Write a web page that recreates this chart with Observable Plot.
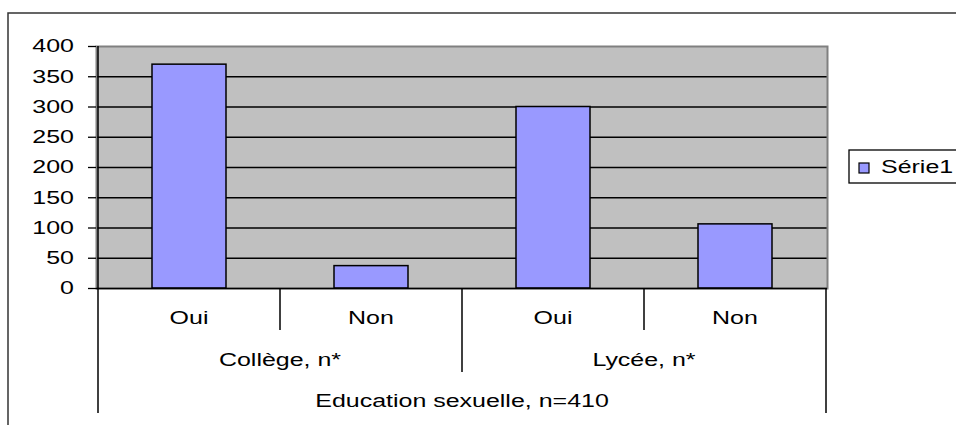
<!DOCTYPE html>
<html><head><meta charset="utf-8">
<script src="https://cdn.jsdelivr.net/npm/d3@7"></script>
<script src="https://cdn.jsdelivr.net/npm/@observablehq/plot@0.6"></script>
<style>
html,body{margin:0;padding:0;background:#fff;overflow:hidden;}
#wrap{position:relative;width:956px;height:425px;}
</style></head><body><div id="wrap"></div>
<script>
// ---- data ----
const groups = ["Collège, n*", "Lycée, n*"];
const answers = ["Oui", "Non"];
const values = [370, 37, 300, 106];
const seriesName = "Série1";
const topLabel = "Education sexuelle, n=410";
const yTicks = [0, 50, 100, 150, 200, 250, 300, 350, 400];

const data = [];
groups.forEach((g, gi) => answers.forEach((a, ai) =>
  data.push({group: g, answer: a, key: g + "|" + a, value: values[gi * answers.length + ai]})));
const keys = data.map(d => d.key);

const SX = 1.35; // horizontal stretch of the reference's lettering
const FONT = "'Liberation Sans', Arial, sans-serif";
const FS = "18.5px";

const plot = Plot.plot({
  width: 956, height: 425,
  marginLeft: 96, marginRight: 129, marginTop: 46, marginBottom: 137,
  style: {background: "white", fontFamily: FONT, fontSize: FS, color: "black"},
  x: {type: "band", domain: keys, paddingInner: 0.595, paddingOuter: 0.2975, axis: null},
  y: {domain: [0, 400], label: null},
  marks: [
    Plot.frame({fill: "#C0C0C0", stroke: null}),
    Plot.ruleY(yTicks.filter(v => v > 0 && v < 400), {stroke: "black", strokeWidth: 1.3}),
    Plot.frame({stroke: "#808080", strokeWidth: 2}),
    Plot.barY(data, {x: "key", y: "value", fill: "#9999FF", stroke: "black", strokeWidth: 1.5}),
    Plot.ruleY([0], {stroke: "black", strokeWidth: 1.5}),
    Plot.axisY({ticks: yTicks, tickSize: 8, tickFormat: () => "", stroke: "black", strokeWidth: 1.3, label: null})
  ]
});
document.getElementById("wrap").appendChild(plot);
plot.querySelectorAll("text").forEach(t => t.remove());

const svg = d3.select(plot);
const xs = plot.scale("x"), ys = plot.scale("y");
const step = xs.step, bw = xs.bandwidth;
const y0 = ys.apply(0), yTop = ys.apply(400);
const center = k => xs.apply(k) + bw / 2;

function label(x, y, str, anchor) {
  svg.append("text")
    .attr("transform", `translate(${x},${y}) scale(${SX},1)`)
    .attr("text-anchor", anchor).attr("dy", "0.35em")
    .attr("font-family", FONT).attr("font-size", FS).attr("fill", "black")
    .text(str);
}

// y tick labels
yTicks.forEach(v => label(xs.range[0] - 8 - 14, ys.apply(v), String(v), "end"));

// multi-level category axis dividers
const g = svg.append("g").attr("stroke", "black").attr("stroke-width", 1.5);
for (let i = 0; i <= keys.length; i++) {
  const x = i === 0 ? center(keys[0]) - step / 2 : center(keys[i - 1]) + step / 2;
  let y1 = y0, y2;
  if (i === 0 || i === keys.length) { y2 = y0 + 125; if (i === 0) y1 = yTop; }
  else if (i % answers.length === 0) y2 = y0 + 84;
  else y2 = y0 + 42;
  g.append("line").attr("x1", x).attr("x2", x).attr("y1", y1).attr("y2", y2);
}

// level 1 labels
data.forEach(d => label(center(d.key), y0 + 30, d.answer, "middle"));
// group labels
groups.forEach(gr => {
  const ks = data.filter(d => d.group === gr).map(d => d.key);
  label((center(ks[0]) + center(ks[ks.length - 1])) / 2, y0 + 72, gr, "middle");
});
// top level label
label((center(keys[0]) + center(keys[keys.length - 1])) / 2, y0 + 113, topLabel, "middle");

// legend
const lg = svg.append("g");
lg.append("rect").attr("x", 849).attr("y", 150).attr("width", 130).attr("height", 33)
  .attr("fill", "white").attr("stroke", "black").attr("stroke-width", 1.3);
lg.append("rect").attr("x", 859).attr("y", 163).attr("width", 10).attr("height", 10)
  .attr("fill", "#9999FF").attr("stroke", "black").attr("stroke-width", 1.2);
label(881, 167, seriesName, "start");

// outer chart-area border (top and left edges visible)
svg.append("path").attr("d", "M8,425V13H956").attr("fill", "none")
  .attr("stroke", "#333").attr("stroke-width", 1.5);
</script></body></html>
